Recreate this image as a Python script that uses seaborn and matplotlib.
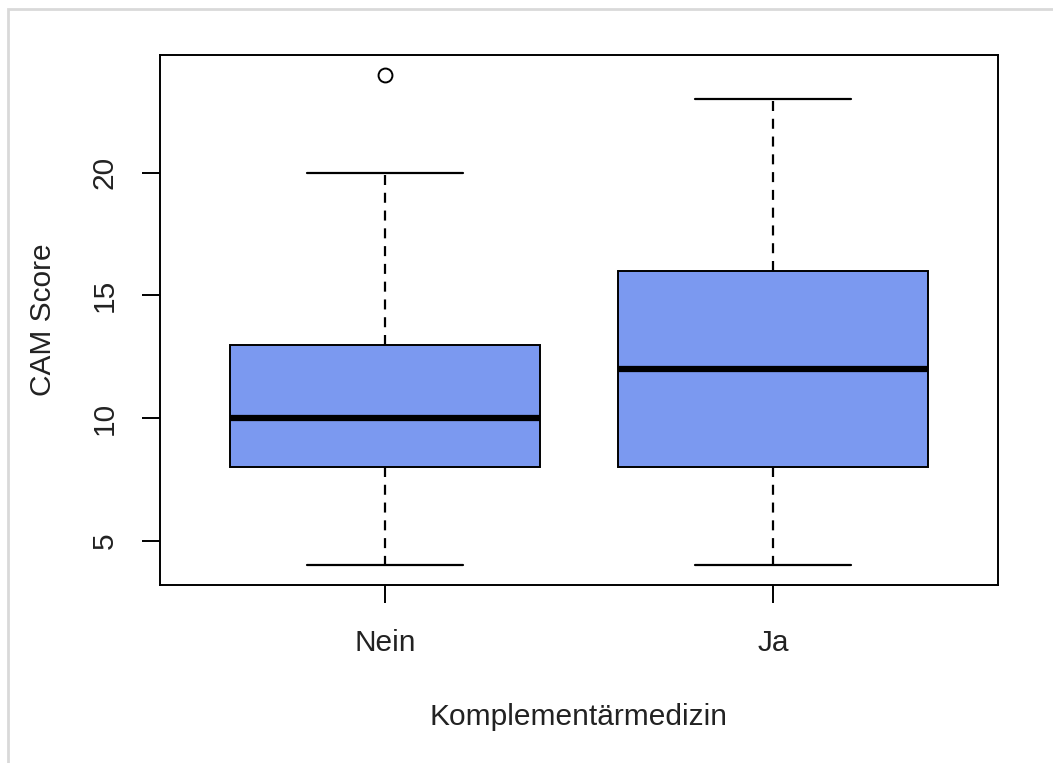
import matplotlib
matplotlib.use('Agg')
import matplotlib.pyplot as plt
import seaborn as sns
import pandas as pd
from matplotlib.patches import Rectangle

# CAM scores per group
groups = ['Nein', 'Ja']
nein_scores = [4, 6, 8, 8, 9, 10, 10, 11, 13, 13, 15, 20, 24]
ja_scores = [4, 6, 8, 8, 10, 11, 12, 13, 16, 16, 18, 21, 23]
y_ticks = [5, 10, 15, 20]

df = pd.DataFrame({
    'Komplementärmedizin': ['Nein'] * len(nein_scores) + ['Ja'] * len(ja_scores),
    'CAM Score': nein_scores + ja_scores,
})

sns.set_style('white')
plt.rcParams['font.family'] = ['Liberation Sans', 'DejaVu Sans']

fig = plt.figure(figsize=(10.53, 7.63), dpi=100)
ax = fig.add_axes([160 / 1053, 1 - 585 / 763, 838 / 1053, 530 / 763])

# light frame around the whole picture
fig.patches.append(Rectangle((8 / 1053, -0.1), 1.2, (1 - 9 / 763) + 0.1,
                             transform=fig.transFigure, fill=False,
                             edgecolor='#d9d9d9', linewidth=2))

sns.boxplot(data=df, x='Komplementärmedizin', y='CAM Score', order=groups,
            color='#7B99F0', saturation=1, width=0.8, linecolor='black',
            linewidth=1.4, ax=ax,
            boxprops=dict(edgecolor='black', linewidth=1.4),
            whiskerprops=dict(linestyle=(0, (4.5, 3.5)), linewidth=1.6),
            capprops=dict(linewidth=1.6),
            medianprops=dict(linewidth=4.5, color='black'),
            flierprops=dict(marker='o', markersize=10, markerfacecolor='none',
                            markeredgecolor='black', markeredgewidth=1.4))

ax.set_xlim(-0.58, 1.58)
ax.set_ylim(3.2, 24.8)
ax.set_yticks(y_ticks)
ax.set_yticklabels([str(t) for t in y_ticks], rotation=90, va='center')
for s in ax.spines.values():
    s.set_visible(True)
    s.set_color('black')
    s.set_linewidth(1.4)
ax.tick_params(axis='both', direction='out', length=13, width=1.4,
               bottom=True, left=True,
               labelsize=21.5, color='black', labelcolor='#222222')
ax.tick_params(axis='y', pad=17)
ax.tick_params(axis='x', pad=19)
ax.set_xlabel('Komplementärmedizin', fontsize=21.5, color='#222222', labelpad=33)
ax.set_ylabel('CAM Score', fontsize=21.5, color='#222222', labelpad=24)

plt.savefig('out.png', dpi=100)
plt.close()
